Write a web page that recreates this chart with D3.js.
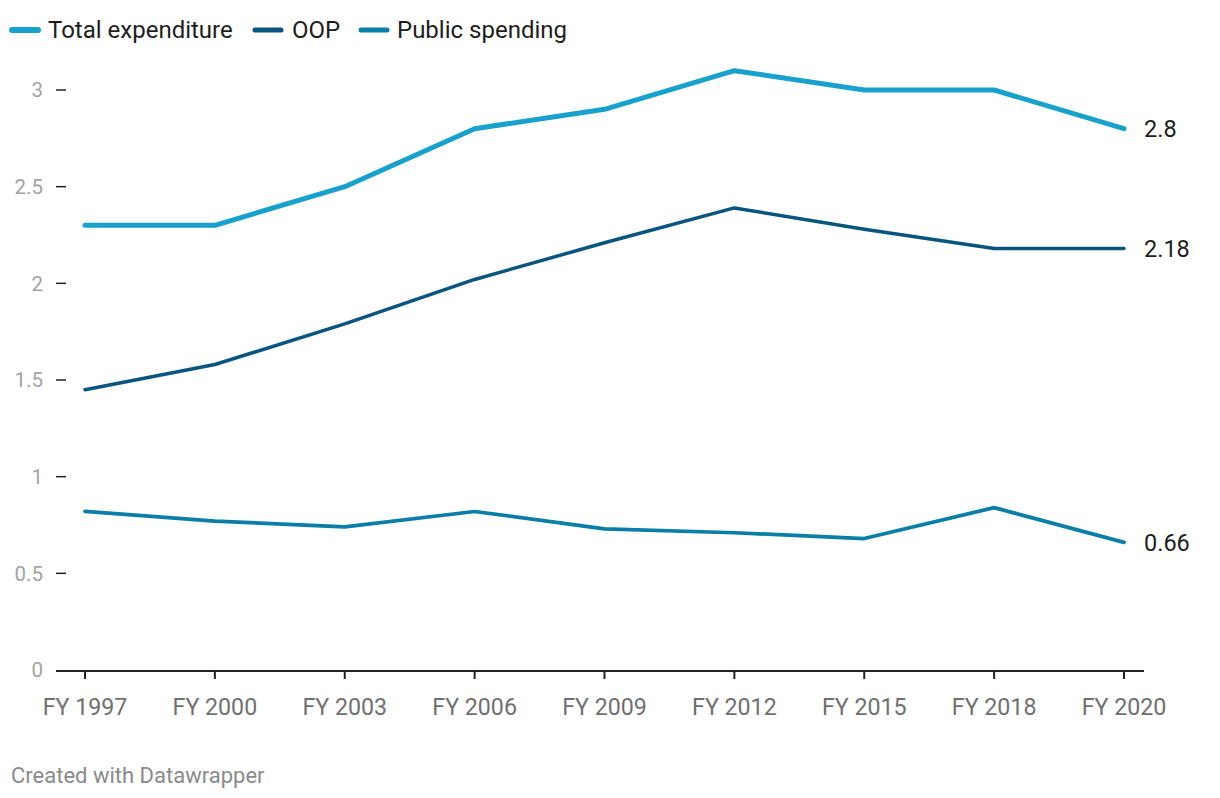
<!DOCTYPE html>
<html>
<head>
<meta charset="utf-8">
<script src="https://cdn.jsdelivr.net/npm/d3@7"></script>
<style>
  body { margin: 0; background: #fff; }
  svg { display: block; font-family: Roboto, sans-serif; }
</style>
</head>
<body>
<svg id="chart" width="1220" height="798"></svg>
<script>
const categories = ["FY 1997","FY 2000","FY 2003","FY 2006","FY 2009","FY 2012","FY 2015","FY 2018","FY 2020"];
const totalExpenditure = [2.3, 2.3, 2.5, 2.8, 2.9, 3.1, 3.0, 3.0, 2.8];
const oop = [1.45, 1.58, 1.79, 2.02, 2.21, 2.39, 2.28, 2.18, 2.18];
const publicSpending = [0.82, 0.77, 0.74, 0.82, 0.73, 0.71, 0.68, 0.84, 0.66];
const yTicks = [0, 0.5, 1, 1.5, 2, 2.5, 3];
const endLabels = ["2.8", "2.18", "0.66"];

const series = [
  { name: "Total expenditure", values: totalExpenditure, color: "#18a1cd", width: 5, label: endLabels[0] },
  { name: "OOP", values: oop, color: "#0a557f", width: 3.5, label: endLabels[1] },
  { name: "Public spending", values: publicSpending, color: "#0a7ea7", width: 3.7, label: endLabels[2] }
];

const svg = d3.select("#chart");
const x = d3.scalePoint().domain(categories).range([85, 1124]);
const y = d3.scaleLinear().domain([0, 3]).range([670, 90]);

// Y axis ticks & labels
const yg = svg.append("g");
yg.selectAll("line").data(yTicks.filter(d => d > 0)).join("line")
  .attr("x1", 56).attr("x2", 66)
  .attr("y1", d => y(d)).attr("y2", d => y(d))
  .attr("stroke", "#222").attr("stroke-width", 1.5);
yg.selectAll("text").data(yTicks).join("text")
  .attr("x", 43).attr("y", d => y(d)).attr("dy", "0.35em")
  .attr("text-anchor", "end")
  .attr("fill", "#a3a3a3").attr("font-size", 20.5)
  .text(d => d3.format("~g")(d));

// X axis
const xg = svg.append("g");
xg.append("line").attr("x1", 56).attr("x2", 1144).attr("y1", y(0) + 1).attr("y2", y(0) + 1)
  .attr("stroke", "#222").attr("stroke-width", 2);
xg.selectAll(".tick").data(categories).join("line")
  .attr("x1", d => x(d)).attr("x2", d => x(d))
  .attr("y1", y(0) + 1).attr("y2", y(0) + 9)
  .attr("stroke", "#222").attr("stroke-width", 2);
xg.selectAll("text").data(categories).join("text")
  .attr("x", d => x(d)).attr("y", 707).attr("dy", "0.35em")
  .attr("text-anchor", "middle")
  .attr("fill", "#707070").attr("font-size", 23.2)
  .text(d => d);

// Lines
const line = d3.line().x((d, i) => x(categories[i])).y(d => y(d));
series.forEach(s => {
  svg.append("path").datum(s.values)
    .attr("d", line)
    .attr("fill", "none")
    .attr("stroke", s.color)
    .attr("stroke-width", s.width)
    .attr("stroke-linejoin", "round")
    .attr("stroke-linecap", "round");
  svg.append("text")
    .attr("x", 1144).attr("y", y(s.values[s.values.length - 1])).attr("dy", "0.35em")
    .attr("fill", "#1d1d1d").attr("font-size", 23.5)
    .text(s.label);
});

// Legend
const legendPos = [
  { sx: 12, tx: 48 },
  { sx: 255, tx: 292 },
  { sx: 361, tx: 397 }
];
series.forEach((s, i) => {
  const p = legendPos[i];
  svg.append("line")
    .attr("x1", p.sx).attr("x2", p.sx + 26)
    .attr("y1", 30).attr("y2", 30)
    .attr("stroke", s.color).attr("stroke-width", i === 0 ? 6 : 5)
    .attr("stroke-linecap", "round");
  svg.append("text")
    .attr("x", p.tx).attr("y", 30).attr("dy", "0.35em")
    .attr("fill", "#1d1d1d").attr("font-size", 24)
    .text(s.name);
});

// Footer
svg.append("text")
  .attr("x", 11).attr("y", 775).attr("dy", "0.35em")
  .attr("fill", "#8a8a8a").attr("font-size", 22)
  .text("Created with Datawrapper");
</script>
</body>
</html>
